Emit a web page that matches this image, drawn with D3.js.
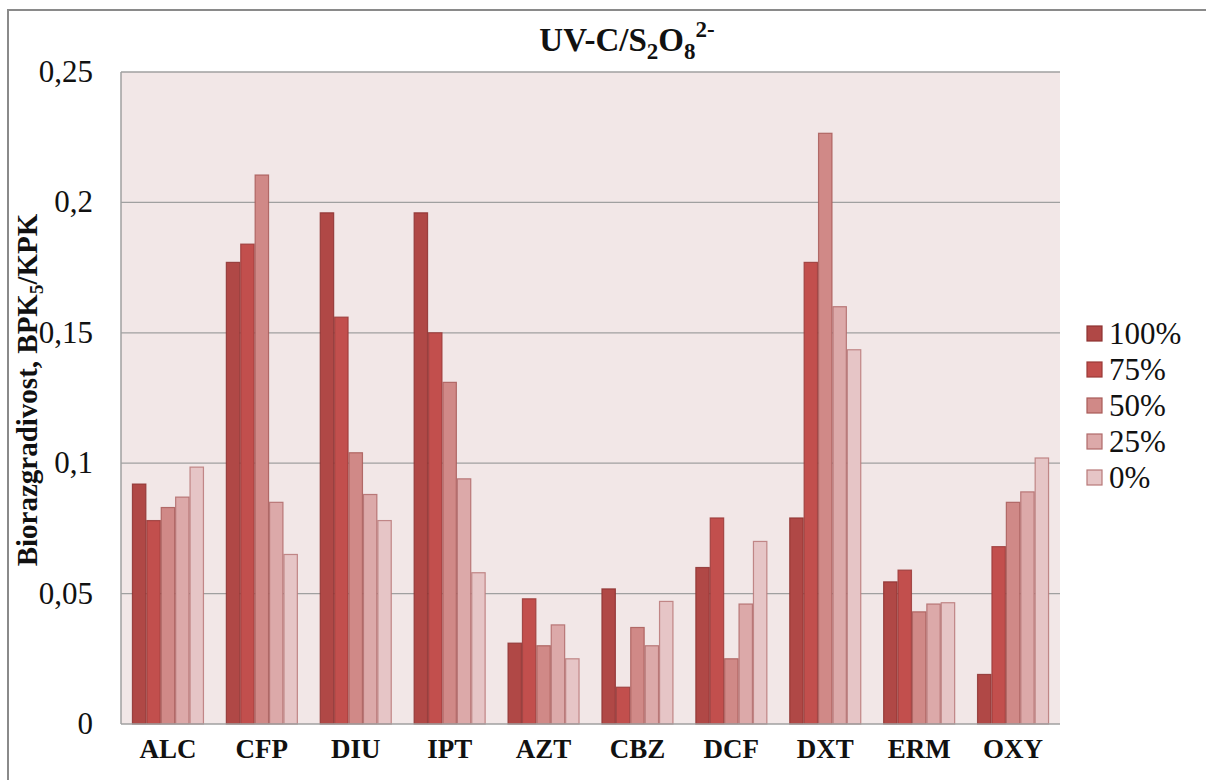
<!DOCTYPE html>
<html><head><meta charset="utf-8">
<script src="https://cdn.jsdelivr.net/npm/d3@7"></script>
<style>body{margin:0;background:#fff}svg{display:block}</style>
</head><body>
<svg id="c" width="1206" height="780"></svg>
<script>
const categories = ["ALC","CFP","DIU","IPT","AZT","CBZ","DCF","DXT","ERM","OXY"];
const seriesNames = ["100%","75%","50%","25%","0%"];
const s100 = [0.092,0.177,0.196,0.196,0.031,0.0518,0.060,0.079,0.0545,0.019];
const s75  = [0.078,0.184,0.156,0.150,0.048,0.0141,0.079,0.177,0.059,0.068];
const s50  = [0.083,0.2105,0.104,0.131,0.030,0.037,0.025,0.2265,0.043,0.085];
const s25  = [0.087,0.085,0.088,0.094,0.038,0.030,0.046,0.160,0.046,0.089];
const s0   = [0.0985,0.065,0.078,0.058,0.025,0.047,0.070,0.1435,0.0465,0.102];
const seriesValues = [s100,s75,s50,s25,s0];
const yTicks = [0,0.05,0.1,0.15,0.2,0.25];
const yTickLabels = ["0","0,05","0,1","0,15","0,2","0,25"];

const fills = ["#b04846","#c24f4d","#d08987","#dca9a9","#e6c5c6"];
const strokes = ["#8e3331","#9a3a38","#a85a58","#b06a6a","#b87878"];

const svg = d3.select("#c").style("font-family",'"Liberation Serif"');
const L = 121, R = 1060, T = 72, B = 724;
svg.append("rect").attr("x",8).attr("y",10).attr("width",1210).attr("height",780)
  .attr("fill","#fff").attr("stroke","#8a8a8a").attr("stroke-width",2);

const x0 = d3.scaleBand().domain(categories).range([L,R]).paddingInner(0.2333).paddingOuter(0.1166);
const x1 = d3.scaleBand().domain(seriesNames).range([0,x0.bandwidth()]).padding(0);
const y = d3.scaleLinear().domain([0,0.25]).range([B,T]);

svg.append("rect").attr("x",L).attr("y",T).attr("width",R-L).attr("height",B-T).attr("fill","#f2e7e7");

svg.append("g").selectAll("line").data(yTicks.slice(1)).join("line")
  .attr("x1",L).attr("x2",R).attr("y1",d=>y(d)).attr("y2",d=>y(d))
  .attr("stroke","#a0a0a0").attr("stroke-width",1.3);

const g = svg.append("g");
seriesNames.forEach((s,si)=>{
  g.selectAll(null).data(categories).join("rect")
    .attr("x",c=>x0(c)+x1(s)+0.5)
    .attr("y",(c,i)=>y(seriesValues[si][i]))
    .attr("width",x1.bandwidth()-1)
    .attr("height",(c,i)=>B-y(seriesValues[si][i]))
    .attr("fill",fills[si]).attr("stroke",strokes[si]).attr("stroke-width",1.2).attr("stroke-opacity",0.85);
});

svg.append("line").attr("x1",L).attr("x2",L).attr("y1",T).attr("y2",B).attr("stroke","#a0a0a0").attr("stroke-width",1.5);
svg.append("line").attr("x1",L).attr("x2",R).attr("y1",B).attr("y2",B).attr("stroke","#a0a0a0").attr("stroke-width",1.5);

const serif = '"Liberation Serif"';
svg.append("g").selectAll("text").data(yTicks).join("text")
  .style("font-family",serif).attr("font-size",31)
  .attr("x",93).attr("y",d=>y(d)+10).attr("text-anchor","end")
  .attr("fill","#111")
  .text((d,i)=>yTickLabels[i]);

svg.append("g").selectAll("text").data(categories).join("text")
  .style("font-family",serif).attr("font-size",27).attr("font-weight","bold")
  .attr("x",c=>x0(c)+x0.bandwidth()/2).attr("y",758).attr("text-anchor","middle")
  .attr("fill","#111")
  .text(c=>c);

// title
const t = svg.append("text").style("font-family",serif).attr("font-size",33).attr("font-weight","bold")
  .attr("x",627).attr("y",51).attr("text-anchor","middle").attr("fill","#111");
t.append("tspan").text("UV-C/S");
t.append("tspan").attr("font-size",23).attr("dy",8).text("2");
t.append("tspan").attr("dy",-8).text("O");
t.append("tspan").attr("font-size",23).attr("dy",8).text("8");
t.append("tspan").attr("font-size",23).attr("dy",-22).text("2-");

// y label
const yl = svg.append("text").style("font-family",serif).attr("font-size",29).attr("font-weight","bold")
  .attr("transform","translate(37,390) rotate(-90)").attr("text-anchor","middle").attr("fill","#111");
yl.append("tspan").text("Biorazgradivost, BPK");
yl.append("tspan").attr("font-size",19).attr("dy",6).text("5");
yl.append("tspan").attr("dy",-6).text("/KPK");

// legend
const lg = svg.append("g").selectAll("g").data(seriesNames).join("g")
  .attr("transform",(d,i)=>`translate(1087,${334+i*36})`);
lg.append("rect").attr("x",0).attr("y",-8).attr("width",15).attr("height",15)
  .attr("fill",(d,i)=>fills[i]).attr("stroke",(d,i)=>strokes[i]).attr("stroke-width",1.2);
lg.append("text").style("font-family",serif).attr("font-size",31)
  .attr("x",22).attr("y",10).attr("fill","#111").text(d=>d);
</script>
</body></html>
